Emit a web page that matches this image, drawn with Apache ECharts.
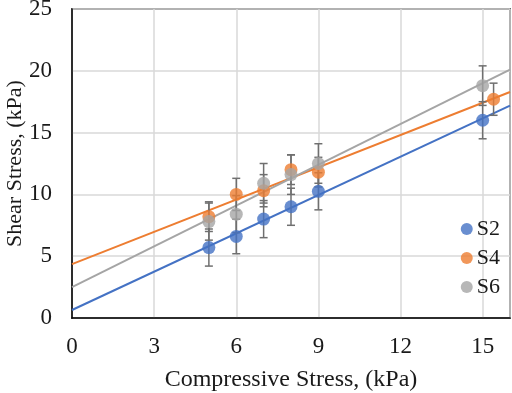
<!DOCTYPE html>
<html>
<head>
<meta charset="utf-8">
<script src="https://cdn.jsdelivr.net/npm/echarts@6/dist/echarts.min.js"></script>
<style>
  html, body { margin: 0; padding: 0; background: #fff; }
  #chart { width: 512px; height: 393px; }
</style>
</head>
<body>
<div id="chart"></div>
<script>
// measured values (kPa)
const seriesNames = ['S2', 'S4', 'S6'];
const colors = ['#4472C4', '#ED7D31', '#A5A5A5'];

const s2X = [5, 6, 7, 8, 9, 15];
const s2Y = [5.7, 6.6, 8.0, 9.0, 10.25, 16.0];
const s2Err = [1.5, 1.4, 1.5, 1.5, 1.5, 1.5];

const s4X = [5, 6, 7, 8, 9, 15.4];
const s4Y = [8.2, 10.0, 10.3, 12.0, 11.8, 17.7];
const s4Err = [1.2, 1.3, 1.3, 1.2, 1.2, 1.3];

const s6X = [5, 6, 7, 8, 9, 15];
const s6Y = [7.8, 8.4, 10.9, 11.6, 12.5, 18.8];
const s6Err = [1.5, 1.5, 1.6, 1.6, 1.6, 1.6];

const xTicks = [0, 3, 6, 9, 12, 15];
const yTicks = [0, 5, 10, 15, 20, 25];

const allX = [s2X, s4X, s6X];
const allY = [s2Y, s4Y, s6Y];
const allErr = [s2Err, s4Err, s6Err];

const font = '"Liberation Serif", "Times New Roman", serif';
const chart = echarts.init(document.getElementById('chart'));

// least squares fit, like the Excel trendline
function fit(xs, ys) {
    const n = xs.length;
    const mx = xs.reduce((a, b) => a + b, 0) / n;
    const my = ys.reduce((a, b) => a + b, 0) / n;
    let sxy = 0, sxx = 0;
    for (let i = 0; i < n; i++) {
        sxy += (xs[i] - mx) * (ys[i] - my);
        sxx += (xs[i] - mx) * (xs[i] - mx);
    }
    const k = sxy / sxx;
    return { k: k, b: my - k * mx };
}

const xMax = 16;
const series = [];

seriesNames.forEach((name, s) => {
    const f = fit(allX[s], allY[s]);
    series.push({
        type: 'line',
        name: name + ' fit',
        data: [[0, f.b], [xMax, f.k * xMax + f.b]],
        showSymbol: false,
        symbol: 'none',
        lineStyle: { color: colors[s], width: 2 },
        silent: true,
        z: 2
    });
});

seriesNames.forEach((name, s) => {
    series.push({
        type: 'custom',
        name: name + ' err',
        data: allX[s].map((x, i) => [x, allY[s][i], allErr[s][i]]),
        renderItem: function (params, api) {
            const x = api.value(0), y = api.value(1), e = api.value(2);
            const top = api.coord([x, y + e]);
            const bot = api.coord([x, y - e]);
            const w = 4;
            const style = { stroke: '#6f6f6f', lineWidth: 1.5 };
            return {
                type: 'group',
                children: [
                    { type: 'line', shape: { x1: top[0], y1: top[1], x2: bot[0], y2: bot[1] }, style: style },
                    { type: 'line', shape: { x1: top[0] - w, y1: top[1], x2: top[0] + w, y2: top[1] }, style: style },
                    { type: 'line', shape: { x1: bot[0] - w, y1: bot[1], x2: bot[0] + w, y2: bot[1] }, style: style }
                ]
            };
        },
        silent: true,
        z: 3
    });
});

seriesNames.forEach((name, s) => {
    series.push({
        type: 'scatter',
        name: name,
        data: allX[s].map((x, i) => [x, allY[s][i]]),
        symbol: 'circle',
        symbolSize: 13,
        itemStyle: { color: colors[s] },
        z: 4
    });
});

const option = {
    animation: false,
    grid: {
        left: 72, right: 2, top: 9, bottom: 75,
        outerBoundsMode: 'none',
        containLabel: false,
        show: true,
        borderColor: '#000',
        borderWidth: 1.5
    },
    legend: {
        data: seriesNames.map((n, s) => ({ name: n, icon: 'circle', itemStyle: { color: colors[s] } })),
        orient: 'vertical',
        right: 7,
        top: 212,
        itemWidth: 12,
        itemHeight: 12,
        itemGap: 5,
        textStyle: { fontFamily: font, fontSize: 22, color: '#1a1a1a', lineHeight: 24, padding: [0, 0, 0, -1] }
    },
    xAxis: {
        type: 'value',
        min: 0,
        max: xMax,
        interval: 3,
        name: 'Compressive Stress, (kPa)',
        nameLocation: 'middle',
        nameGap: 50,
        nameMoveOverlap: false,
        nameTextStyle: { fontFamily: font, fontSize: 24, color: '#1a1a1a' },
        axisLine: { lineStyle: { color: '#000', width: 1.5 } },
        axisTick: { show: false },
        axisLabel: {
            fontFamily: font, fontSize: 23, color: '#1a1a1a', margin: 17,
            showMaxLabel: false,
            formatter: v => xTicks.indexOf(v) >= 0 ? String(v) : ''
        },
        splitLine: { lineStyle: { color: '#d9d9d9', width: 1.5 } }
    },
    yAxis: {
        type: 'value',
        min: 0,
        max: 25,
        interval: 5,
        name: 'Shear Stress, (kPa)',
        nameLocation: 'middle',
        nameGap: 46,
        nameMoveOverlap: false,
        nameTextStyle: { fontFamily: font, fontSize: 22, color: '#1a1a1a' },
        axisLine: { show: true, lineStyle: { color: '#000', width: 1.5 } },
        axisTick: { show: false },
        axisLabel: {
            fontFamily: font, fontSize: 23, color: '#1a1a1a', margin: 20,
            formatter: v => yTicks.indexOf(v) >= 0 ? String(v) : ''
        },
        splitLine: { lineStyle: { color: '#d9d9d9', width: 1.5 } }
    },
    series: series
};

chart.setOption(option);
window.addEventListener('resize', () => chart.resize());
</script>
</body>
</html>
